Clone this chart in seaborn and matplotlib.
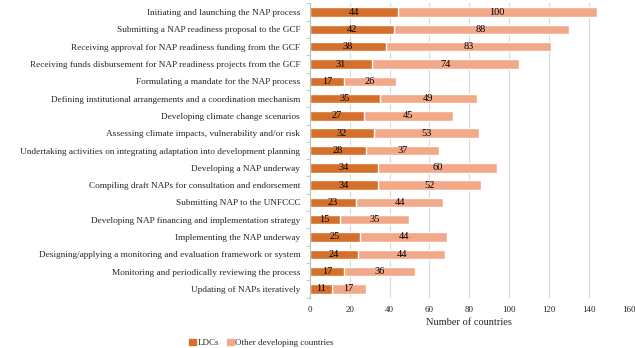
import matplotlib
matplotlib.use("Agg")
import matplotlib.pyplot as plt
import seaborn as sns
import pandas as pd
import numpy as np
from matplotlib.patches import Patch

steps = [
    "Initiating and launching the NAP process",
    "Submitting a NAP readiness proposal to the GCF",
    "Receiving approval for NAP readiness funding from the GCF",
    "Receiving funds disbursement for NAP readiness projects from the GCF",
    "Formulating a mandate for the NAP process",
    "Defining institutional arrangements and a coordination mechanism",
    "Developing climate change scenarios",
    "Assessing climate impacts, vulnerability and/or risk",
    "Undertaking activities on integrating adaptation into development planning",
    "Developing a NAP underway",
    "Compiling draft NAPs for consultation and endorsement",
    "Submitting NAP to the UNFCCC",
    "Developing NAP financing and implementation strategy",
    "Implementing the NAP underway",
    "Designing/applying a monitoring and evaluation framework or system",
    "Monitoring and periodically reviewing the process",
    "Updating of NAPs iteratively",
]
ldcs = [44, 42, 38, 31, 17, 35, 27, 32, 28, 34, 34, 23, 15, 25, 24, 17, 11]
others = [100, 88, 83, 74, 26, 49, 45, 53, 37, 60, 52, 44, 35, 44, 44, 36, 17]
xticks = [0, 20, 40, 60, 80, 100, 120, 140, 160]

dark = "#D4702C"
light = "#F2A98A"

sns.set_theme(style="white")
plt.rcParams["font.family"] = ["Liberation Serif", "DejaVu Serif"]

df = pd.DataFrame({"step": steps, "LDCs": ldcs, "Other": others})
df["total"] = df["LDCs"] + df["Other"]

fig, ax = plt.subplots(figsize=(6.35, 3.48), dpi=100)
fig.subplots_adjust(left=0.488, right=0.99, top=0.99, bottom=0.145)

sns.barplot(data=df, y="step", x="total", color=light, width=0.55,
            saturation=1, ax=ax, orient="h")
sns.barplot(data=df, y="step", x="LDCs", color=dark, width=0.55,
            saturation=1, ax=ax, orient="h")

for i, (a, b) in enumerate(zip(ldcs, others)):
    ax.text(a / 2, i, str(a), ha="center", va="center", fontsize=7.5, color="black")
    ax.text(a + b / 2, i, str(b), ha="center", va="center", fontsize=7.5, color="black")

ax.set_xlim(0, 160)
ax.set_xticks(xticks)
ax.set_xticklabels([str(t) for t in xticks], fontsize=6.5)
ax.tick_params(axis="y", which="major", labelsize=6.7, length=0, pad=7)
ax.set_yticks(np.arange(-0.5, len(steps), 1.0), minor=True)
ax.tick_params(axis="y", which="minor", length=3, color="#BFBFBF", width=0.6, left=True)
ax.tick_params(axis="x", length=0, pad=6)
ax.set_ylabel("")
ax.set_xlabel("Number of countries", fontsize=7.5, labelpad=3)
ax.grid(axis="x", color="#D9D9D9", linewidth=0.8)
ax.set_axisbelow(True)
for s in ["top", "right", "bottom"]:
    ax.spines[s].set_visible(False)
ax.spines["left"].set_color("#BFBFBF")
ax.spines["left"].set_linewidth(0.8)

handles = [Patch(color=dark, label="LDCs"), Patch(color=light, label="Other developing countries")]
fig.legend(handles=handles, loc="lower center", bbox_to_anchor=(0.412, -0.02), ncol=2,
           frameon=False, fontsize=6.5, handlelength=0.7, handleheight=0.7,
           handletextpad=0.2, columnspacing=0.9)

fig.savefig("out.png", dpi=100)
